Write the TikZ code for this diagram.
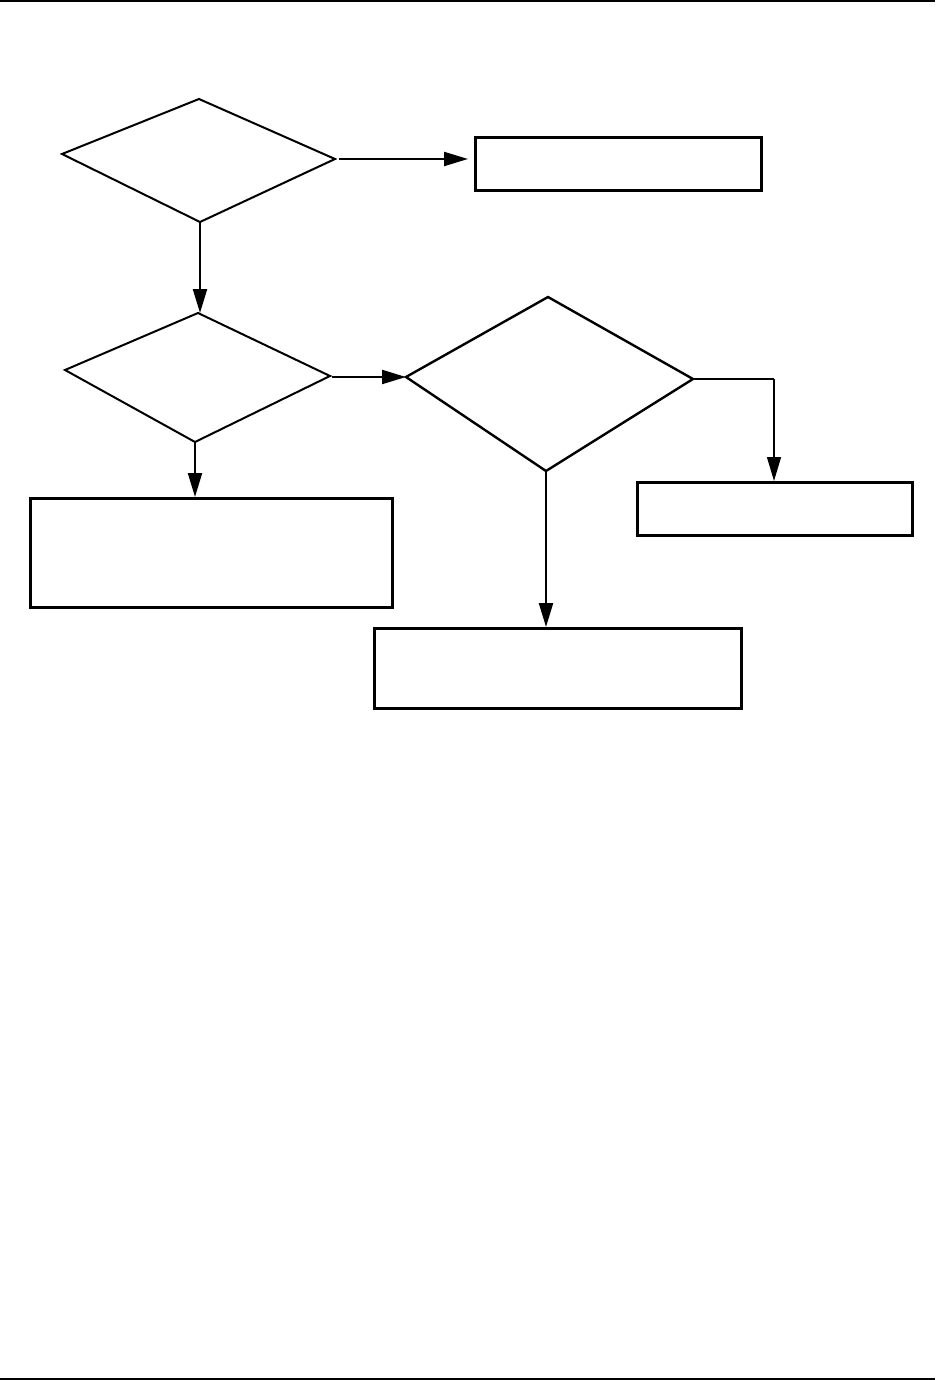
\documentclass[tikz,border=0pt]{standalone}
\usetikzlibrary{arrows.meta}
\begin{document}
\begin{tikzpicture}[x=1pt,y=-1pt,
  shapeline/.style={line width=2pt,line join=miter},
  boxline/.style={line width=2.6pt},
  conn/.style={line width=2.2pt,-{Triangle[length=24pt,width=14pt]}},
  thinconn/.style={line width=1.2pt,-{Triangle[length=24pt,width=14pt]}}]
\useasboundingbox (0,0) rectangle (935,1380);
% page rules
\draw[line width=2.5pt] (0,1.2) -- (935,1.2);
\draw[line width=2.5pt] (0,1378.8) -- (935,1378.8);
% diamond 1
\coordinate (d1t) at (199,99);
\coordinate (d1l) at (62,154);
\coordinate (d1r) at (335,159);
\coordinate (d1b) at (200,222);
\draw[shapeline] (d1t) -- (d1r) -- (d1b) -- (d1l) -- cycle;
% diamond 2
\coordinate (d2t) at (198,313);
\coordinate (d2l) at (65,370);
\coordinate (d2r) at (330,376);
\coordinate (d2b) at (195,442);
\draw[shapeline] (d2t) -- (d2r) -- (d2b) -- (d2l) -- cycle;
% diamond 3
\coordinate (d3t) at (548,297);
\coordinate (d3l) at (406,377);
\coordinate (d3r) at (693,379);
\coordinate (d3b) at (546,471);
\draw[line width=2.4pt] (d3t) -- (d3r) -- (d3b) -- (d3l) -- cycle;
% boxes
\node[boxline,draw,inner sep=0pt,minimum width=286pt,minimum height=53pt,anchor=north west] (b1) at (474,136) {};
\node[boxline,draw,inner sep=0pt,minimum width=362pt,minimum height=109pt,anchor=north west] (b2) at (29,497) {};
\node[boxline,draw,inner sep=0pt,minimum width=367pt,minimum height=80pt,anchor=north west] (b3) at (373,627) {};
\node[boxline,draw,inner sep=0pt,minimum width=275pt,minimum height=53pt,anchor=north west] (b4) at (636,481) {};
% connectors
\coordinate (a1s) at (339,159);
\draw[conn,shorten >=6pt] (a1s) -- (b1.west |- a1s);
\draw[conn] (d1b) -- (d1b |- d2t);
\coordinate (a2s) at (332,377);
\draw[conn] (a2s) -- (d3l |- a2s);
\draw[conn] (d2b) -- (d2b |- b2.north);
\draw[conn] (d3b) -- (d3b |- b3.north);
\coordinate (a5c) at (774,379);
\draw[line width=2.4pt] (d3r) -- (a5c);
\draw[thinconn] (a5c) -- (a5c |- b4.north);
\end{tikzpicture}
\end{document}
